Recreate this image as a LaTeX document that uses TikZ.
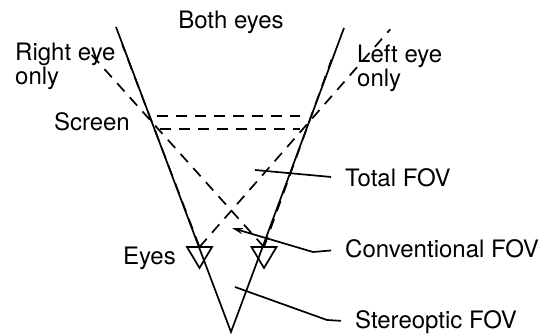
\documentclass[tikz,border=0pt]{standalone}
\usepackage{fontspec}
\setmainfont{TeX Gyre Heros}
\usepackage{tikz}
\usetikzlibrary{positioning, arrows.meta, calc}

\begin{document}
\begin{tikzpicture}[x=1pt, y=-1pt,
        every node/.style={font=\fontsize{24}{24}\selectfont, inner sep=0pt},
        bound/.style={line width=1.7pt},
        ray/.style={line width=1.7pt, dash pattern=on 11pt off 8pt},
        leader/.style={line width=1.7pt, shorten >=14pt}
    ]
        \useasboundingbox (0,0) rectangle (544,334);

        \coordinate (apex) at (231,332);
        \coordinate (vl) at (116,27);
        \coordinate (vr) at (344,28);
        \coordinate (sl) at ($(vl)!0.311!(apex)$);
        \coordinate (sr) at ($(vr)!0.309!(apex)$);
        \coordinate (leye) at (199.5,247);
        \coordinate (reye) at (264,247);

        \draw[bound] (vl) -- (apex) -- (vr);

        \foreach \e in {leye, reye}
            \draw[bound, line join=miter] ($(\e)+(-12.5,0)$) -- ($(\e)+(12.5,0)$) -- ($(\e)+(0,21)$) -- cycle;

        % screen
        \draw[ray] (157,116) -- (300,116);
        \draw[ray] (160,129) -- (300,129);

        % eye rays
        \draw[ray] (leye) -- ($(leye)!1.62!(sl)$);
        \draw[ray] (reye) -- ($(reye)!1.54!(sl)$);
        \draw[ray] (leye) -- ($(leye)!1.74!(sr)$);
        \draw[ray] (reye) -- ($(reye)!1.5!(sr)$);

        \node[anchor=base] (both) at (231,29) {Both eyes};
        \node[anchor=north west, align=left] (righteye) at (15,42.5) {Right eye\\only};
        \node[anchor=north west, align=left] (lefteye) at (357,45) {Left eye\\only};
        \node[anchor=base east] (screen) at (130,131) {Screen};
        \node[anchor=base east] (eyes) at (176,265) {Eyes};
        \node[anchor=base west] (total) at (345,187) {Total FOV};
        \node[anchor=base west] (conv) at (345,258) {Conventional FOV};
        \node[anchor=base west] (stereo) at (355,328) {Stereoptic FOV};

        \coordinate (tfov) at (255,170);
        \coordinate (cfov) at (232,228);
        \coordinate (cbend) at (313,252);
        \coordinate (sfov) at (235,287);
        \coordinate (sbend) at (327,320);

        \draw[leader] (tfov) -- (total.west);
        \draw[leader, {Stealth[length=11pt, width=6pt]}-] (cfov) -- (cbend) -- (conv.west);
        \draw[leader] (sfov) -- (sbend) -- (stereo.west);
    \end{tikzpicture}
\end{document}
